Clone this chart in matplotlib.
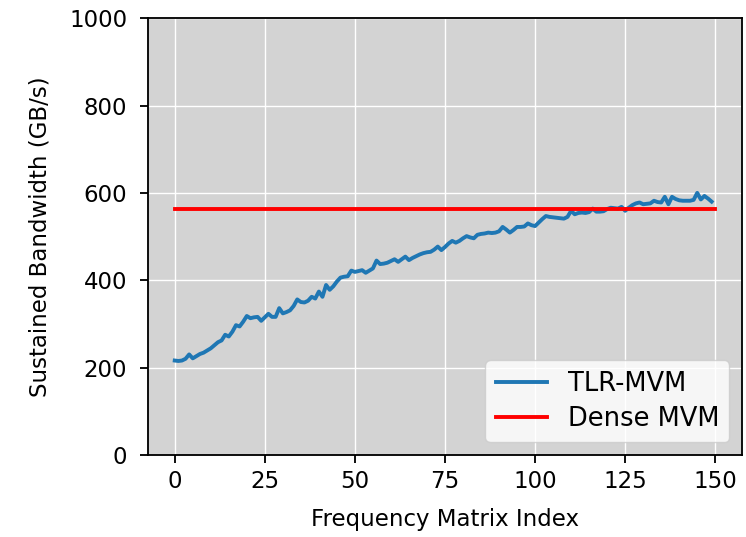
import numpy as np
import matplotlib
matplotlib.use('Agg')
import matplotlib.pyplot as plt

# TLR-MVM sustained bandwidth per frequency matrix (GB/s)
tlr_bw = [216, 215, 216, 220, 230, 221, 226, 231, 234, 239,
          244, 251, 258, 262, 275, 271, 282, 297, 294, 305,
          318, 313, 315, 316, 307, 315, 323, 316, 316, 336,
          324, 327, 331, 341, 356, 350, 349, 353, 362, 358,
          374, 362, 389, 378, 386, 397, 406, 408, 409, 422,
          419, 421, 423, 417, 422, 427, 445, 437, 438, 440,
          444, 448, 442, 448, 454, 446, 451, 455, 459, 462,
          464, 465, 470, 477, 469, 476, 484, 490, 486, 490,
          496, 501, 498, 496, 504, 506, 507, 509, 508, 509,
          512, 522, 516, 509, 515, 522, 522, 523, 530, 526,
          524, 532, 540, 547, 545, 544, 543, 542, 541, 545,
          559, 551, 554, 555, 554, 556, 564, 557, 557, 558,
          563, 566, 565, 564, 568, 559, 566, 572, 576, 578,
          574, 575, 576, 582, 579, 578, 591, 574, 591, 586,
          583, 582, 582, 582, 584, 600, 585, 593, 587, 580]
matrix_idx = list(range(len(tlr_bw)))
dense_x = [0, 150]
dense_bw = [562, 562]

s = 1.65  # everything in the reference looks scaled up
plt.rcParams['font.size'] = 16.5
plt.rcParams['axes.linewidth'] = 0.8 * s
plt.rcParams['xtick.major.size'] = 3.5 * s
plt.rcParams['ytick.major.size'] = 3.5 * s
plt.rcParams['xtick.major.width'] = 0.8 * s
plt.rcParams['ytick.major.width'] = 0.8 * s
plt.rcParams['xtick.major.pad'] = 5
plt.rcParams['ytick.major.pad'] = 9

fig = plt.figure(figsize=(7.46, 5.37), dpi=100)
ax = fig.add_axes([0.198, 0.153, 0.797, 0.813])
ax.set_facecolor('lightgrey')
ax.grid(True, color='white', linewidth=1.0)
ax.set_axisbelow(True)

ax.plot(matrix_idx, tlr_bw, color='#1f77b4', linewidth=2.8, label='TLR-MVM')
ax.plot(dense_x, dense_bw, color='red', linewidth=2.8, label='Dense MVM')

ax.set_ylim(0, 1000)
ax.set_xticks([0, 25, 50, 75, 100, 125, 150])
ax.set_xlabel('Frequency Matrix Index', labelpad=11)
ax.set_ylabel('Sustained Bandwidth (GB/s)', labelpad=13)
ax.legend(loc='lower right', fontsize=18.5, labelspacing=0.35)

fig.savefig('out.png', dpi=100)
